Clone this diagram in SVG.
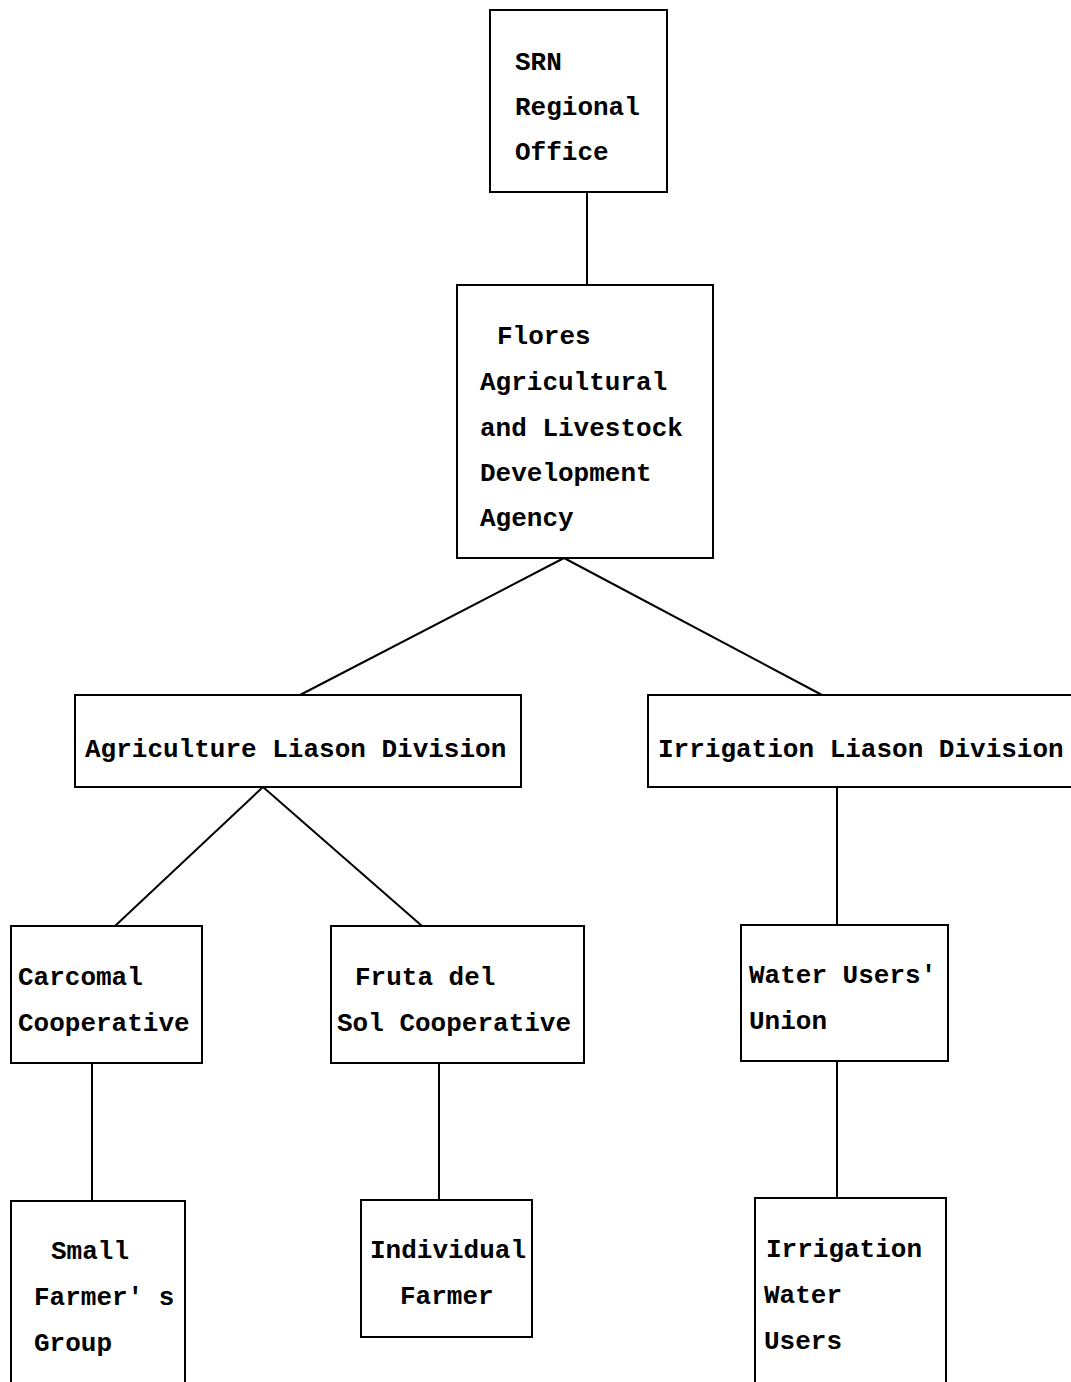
<svg xmlns="http://www.w3.org/2000/svg" width="1071" height="1382" viewBox="0 0 1071 1382">
<style>
.box{fill:#fff;stroke:#000;stroke-width:2}
.t{font-family:"Liberation Mono","DejaVu Sans Mono",monospace;font-size:26px;font-weight:bold;fill:#000}
.c{stroke:#000;stroke-width:2;fill:none}
</style>
<rect width="1071" height="1382" fill="#fff"/>
<g id="connectors">
<line class="c" x1="587" y1="193" x2="587" y2="285"/>
<line class="c" x1="564" y1="558" x2="300" y2="695"/>
<line class="c" x1="564" y1="558" x2="822" y2="695"/>
<line class="c" x1="263" y1="787" x2="115" y2="926"/>
<line class="c" x1="263" y1="787" x2="422" y2="926"/>
<line class="c" x1="837" y1="787" x2="837" y2="925"/>
<line class="c" x1="92" y1="1063" x2="92" y2="1201"/>
<line class="c" x1="439" y1="1063" x2="439" y2="1200"/>
<line class="c" x1="837" y1="1061" x2="837" y2="1198"/>
</g>
<g id="srn">
<rect class="box" x="490" y="10" width="177" height="182"/>
<text class="t" x="515" y="70">SRN</text>
<text class="t" x="515" y="115">Regional</text>
<text class="t" x="515" y="160">Office</text>
</g>
<g id="flores">
<rect class="box" x="457" y="285" width="256" height="273"/>
<text class="t" x="497" y="344">Flores</text>
<text class="t" x="480" y="390">Agricultural</text>
<text class="t" x="480" y="436">and Livestock</text>
<text class="t" x="480" y="481">Development</text>
<text class="t" x="480" y="526">Agency</text>
</g>
<g id="agri">
<rect class="box" x="75" y="695" width="446" height="92"/>
<text class="t" x="85" y="757">Agriculture Liason Division</text>
</g>
<g id="irrig">
<rect class="box" x="648" y="695" width="430" height="92"/>
<text class="t" x="658" y="757">Irrigation Liason Division</text>
</g>
<g id="carcomal">
<rect class="box" x="11" y="926" width="191" height="137"/>
<text class="t" x="18" y="985">Carcomal</text>
<text class="t" x="18" y="1031">Cooperative</text>
</g>
<g id="fruta">
<rect class="box" x="331" y="926" width="253" height="137"/>
<text class="t" x="355" y="985">Fruta del</text>
<text class="t" x="337" y="1031">Sol Cooperative</text>
</g>
<g id="water">
<rect class="box" x="741" y="925" width="207" height="136"/>
<text class="t" x="749" y="983">Water Users'</text>
<text class="t" x="749" y="1029">Union</text>
</g>
<g id="small">
<rect class="box" x="11" y="1201" width="174" height="200"/>
<text class="t" x="51" y="1259">Small</text>
<text class="t" x="34" y="1305">Farmer' s</text>
<text class="t" x="34" y="1351">Group</text>
</g>
<g id="individual">
<rect class="box" x="361" y="1200" width="171" height="137"/>
<text class="t" x="370" y="1258">Individual</text>
<text class="t" x="400" y="1304">Farmer</text>
</g>
<g id="users">
<rect class="box" x="755" y="1198" width="191" height="200"/>
<text class="t" x="766" y="1257">Irrigation</text>
<text class="t" x="764" y="1303">Water</text>
<text class="t" x="764" y="1349">Users</text>
</g>
</svg>
